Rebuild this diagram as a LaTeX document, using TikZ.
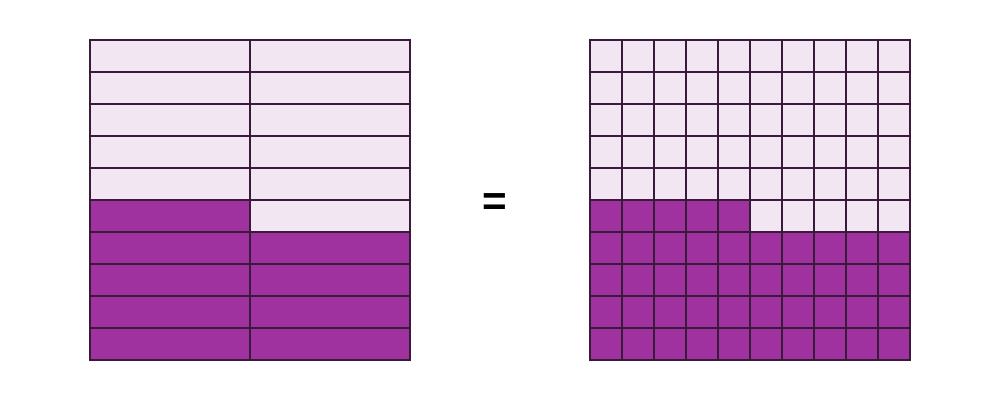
\documentclass[tikz,border=0pt]{standalone}
\usepackage{fontspec}
\setmainfont{Liberation Sans}
\definecolor{lightp}{HTML}{F2E6F2}
\definecolor{darkp}{HTML}{A0329F}
\definecolor{gridline}{HTML}{3A1A3A}
\begin{document}
\begin{tikzpicture}[x=0.02cm,y=-0.02cm,
  lightcell/.style={fill=lightp,draw=gridline,line width=0.8pt},
  darkcell/.style={fill=darkp,draw=gridline,line width=0.8pt}]
\path[use as bounding box] (0,0) rectangle (1000,400);
% left: 2 columns x 10 rows
\foreach \r in {0,...,9}{
  \foreach \c in {0,1}{
    \pgfmathtruncatemacro{\shade}{(\r>5) || (\r==5 && \c==0) ? 1 : 0}
    \ifnum\shade=1
      \path[darkcell] (90+160*\c,40+32*\r) rectangle ++(160,32);
    \else
      \path[lightcell] (90+160*\c,40+32*\r) rectangle ++(160,32);
    \fi
  }
}
% right: 10 x 10
\foreach \r in {0,...,9}{
  \foreach \c in {0,...,9}{
    \pgfmathtruncatemacro{\shade}{(\r>5) || (\r==5 && \c<5) ? 1 : 0}
    \ifnum\shade=1
      \path[darkcell] (590+32*\c,40+32*\r) rectangle ++(32,32);
    \else
      \path[lightcell] (590+32*\c,40+32*\r) rectangle ++(32,32);
    \fi
  }
}
\node[font=\bfseries\fontsize{24}{28}\selectfont] (eq) at (495,205) {=};
\end{tikzpicture}
\end{document}
